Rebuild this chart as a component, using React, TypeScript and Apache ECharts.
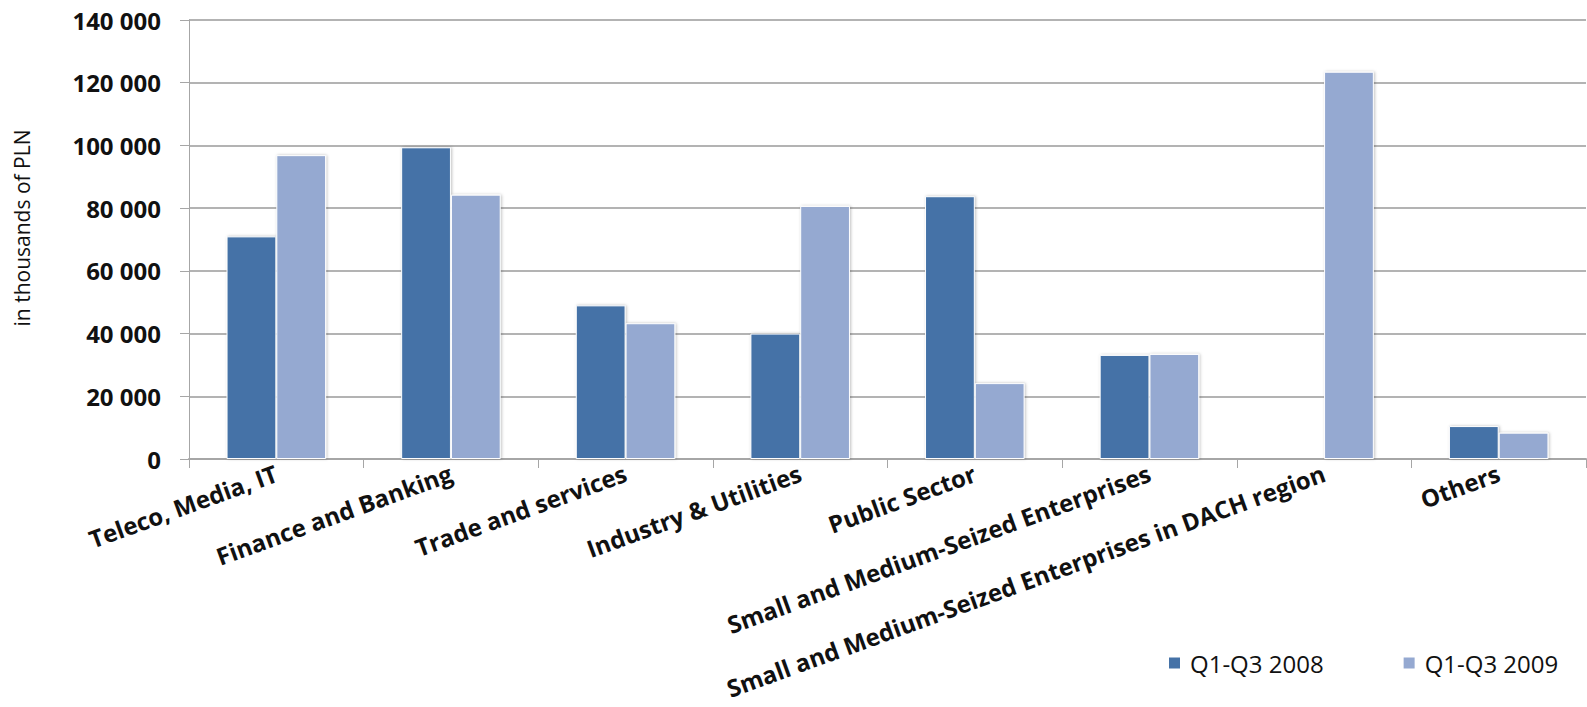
import React, { useEffect, useRef } from "react";
import * as echarts from "echarts";

const categories = [
  "Teleco, Media, IT",
  "Finance and Banking",
  "Trade and services",
  "Industry & Utilities",
  "Public Sector",
  "Small and Medium-Seized Enterprises",
  "Small and Medium-Seized Enterprises in DACH region",
  "Others",
];
const series2008 = [71000, 99400, 49000, 40000, 83800, 33200, 0, 10500];
const series2009 = [96900, 84300, 43300, 80700, 24200, 33500, 123500, 8400];
const seriesNames = ["Q1-Q3 2008", "Q1-Q3 2009"];
const yTicks = { min: 0, max: 140000, interval: 20000 };
const yAxisTitle = "in thousands of PLN";

const FONT = "'Open Sans', 'DejaVu Sans', sans-serif";

function fmt(v: number): string {
  return String(v).replace(/\B(?=(\d{3})+(?!\d))/g, " ");
}

export default function App() {
  const ref = useRef<HTMLDivElement>(null);
  useEffect(() => {
    if (!ref.current) return;
    const chart = echarts.init(ref.current, undefined, { renderer: "svg" });
    const barStyle = (color: string) => ({
      color,
      borderColor: "#ffffff",
      borderWidth: 1,
      shadowColor: "rgba(0,0,0,0.25)",
      shadowBlur: 3,
      shadowOffsetX: 1,
      shadowOffsetY: 0,
    });
    chart.setOption({
      animation: false,
      backgroundColor: "#ffffff",
      grid: { left: 189, right: 1, top: 20, bottom: 248, containLabel: false },
      legend: {
        data: seriesNames,
        left: 1167,
        top: 651,
        padding: 0,
        itemWidth: 13,
        itemHeight: 13,
        itemGap: 78,
        icon: "rect",
        textStyle: { fontFamily: FONT, fontSize: 24, color: "#111", padding: [0, 0, 0, 4] },
      },
      graphic: [
        {
          type: "text",
          x: 22,
          y: 228,
          rotation: Math.PI / 2,
          style: {
            text: yAxisTitle,
            fontFamily: FONT,
            fontSize: 21,
            fill: "#111",
            align: "center",
            verticalAlign: "middle",
          },
        },
      ],
      xAxis: {
        type: "category",
        data: categories,
        axisLine: { lineStyle: { color: "#a6a6a6", width: 2 } },
        axisTick: { show: true, length: 9, lineStyle: { color: "#a6a6a6", width: 1 } },
        axisLabel: {
          rotate: 20,
          interval: 0,
          margin: 13,
          fontFamily: FONT,
          fontWeight: "bold",
          fontSize: 24,
          color: "#111",
        },
      },
      yAxis: {
        type: "value",
        min: yTicks.min,
        max: yTicks.max,
        interval: yTicks.interval,
        axisLine: { show: true, lineStyle: { color: "#a6a6a6", width: 1 } },
        axisTick: { show: true, length: 9, lineStyle: { color: "#a6a6a6" } },
        splitLine: { lineStyle: { color: "#9a9a9a", width: 1.5 } },
        axisLabel: {
          margin: 28,
          fontFamily: FONT,
          fontWeight: "bold",
          fontSize: 24,
          color: "#111",
          formatter: (v: number) => fmt(v),
        },
      },
      series: [
        {
          name: seriesNames[0],
          type: "bar",
          data: series2008,
          barGap: "0%",
          barCategoryGap: "43%",
          itemStyle: barStyle("#4572A7"),
        },
        {
          name: seriesNames[1],
          type: "bar",
          data: series2009,
          barGap: "0%",
          barCategoryGap: "43%",
          itemStyle: barStyle("#95A9D1"),
        },
      ],
    });
    return () => chart.dispose();
  }, []);
  return (
    <div
      ref={ref}
      style={{ position: "fixed", left: 0, top: 0, width: 1587, height: 707 }}
    />
  );
}
